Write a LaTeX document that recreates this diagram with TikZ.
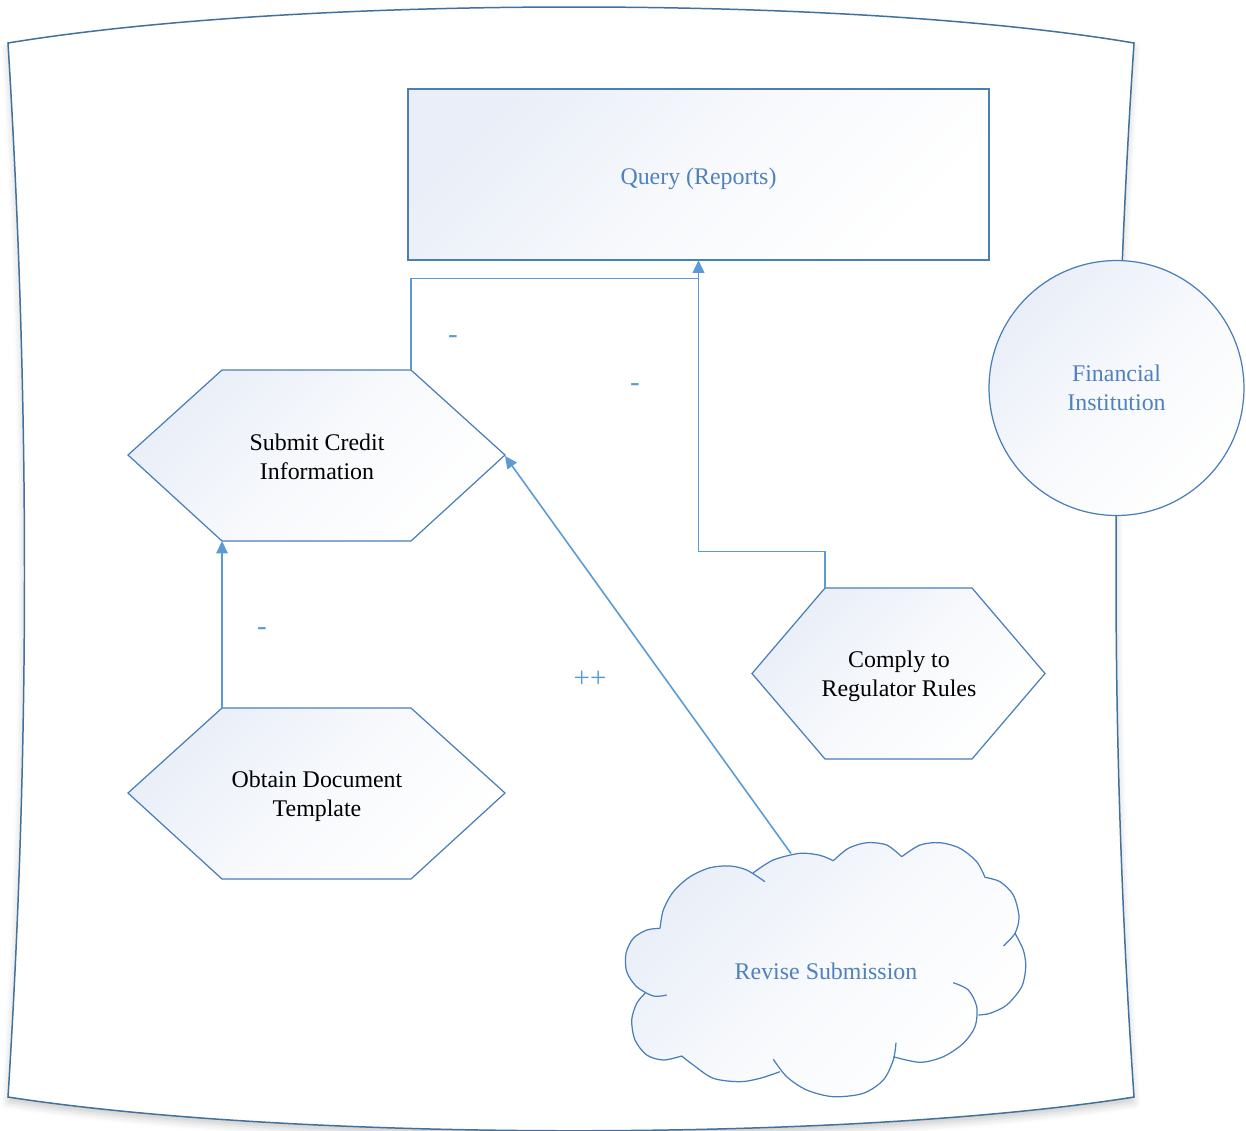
\documentclass[tikz,border=0pt]{standalone}
\usepackage{fontspec}
\setmainfont{Liberation Serif}
\usetikzlibrary{arrows.meta,shadows.blur}

\definecolor{framec}{HTML}{41719C}
\definecolor{edgec}{HTML}{4A7EBB}
\definecolor{connc}{HTML}{5B9BD5}
\definecolor{bluetext}{HTML}{4F81BD}
\definecolor{shadec}{HTML}{E9EEF8}
\definecolor{shademid}{HTML}{F7F9FC}

\tikzset{
  shapefill/.style={top color=shadec, bottom color=white, middle color=shademid, shading angle=45},
  shapeline/.style={draw=edgec, line width=0.7pt},
  hexbox/.style={shapefill, shapeline, line join=miter},
  labeltext/.style={font=\fontsize{13.6pt}{16.4pt}\selectfont, align=center, inner sep=0pt},
  conn/.style={draw=connc, line width=0.9pt, -{Triangle[length=7pt,width=6.5pt]}},
  signlabel/.style={inner sep=0pt, font=\fontsize{16.5pt}{19pt}\selectfont, text=connc},
}

\begin{document}
\begin{tikzpicture}[x=0.02cm, y=-0.02cm]
\useasboundingbox (0,0) rectangle (1246,1130);

% curved sheet outline
\path[fill=white, blur shadow={shadow xshift=0pt, shadow yshift=-3pt, shadow blur radius=4pt, shadow opacity=20}]
  (8,43) .. controls (300,-5) and (850,-5) .. (1134,43)
  .. controls (1110,400) and (1110,750) .. (1134,1097)
  .. controls (850,1142) and (300,1142) .. (8,1097)
  .. controls (30,750) and (30,400) .. (8,43) -- cycle;
\draw[framec, line width=0.85pt, line join=miter]
  (8,43) .. controls (300,-5) and (850,-5) .. (1134,43)
  .. controls (1110,400) and (1110,750) .. (1134,1097)
  .. controls (850,1142) and (300,1142) .. (8,1097)
  .. controls (30,750) and (30,400) .. (8,43) -- cycle;

% reports box and institution
\node[rectangle, shapefill, shapeline, minimum width=11.62cm, minimum height=3.42cm,
      labeltext, text=bluetext, text depth=0pt] (query) at (698.5,174.5) {\raisebox{-2pt}{Query (Reports)}};
\node[circle, shapefill, shapeline, minimum size=5.1cm, labeltext, text=bluetext]
      (fi) at (1116.5,388) {Financial\\Institution};

% hexagonal steps
\path[hexbox] (128,455) -- (222,370) -- (411,370) -- (505,455) -- (411,541) -- (222,541) -- cycle;
\node[labeltext] (submit) at (317,456.5) {Submit Credit\\Information};
\coordinate (submit-tr) at (411,370);
\coordinate (submit-bl) at (222,541);
\coordinate (submit-r) at (505,456);

\path[hexbox] (128,793) -- (222,708) -- (411,708) -- (505,793) -- (411,879) -- (222,879) -- cycle;
\node[labeltext] (obtain) at (317,796.5) {Obtain Document\\Template};
\coordinate (obtain-tl) at (222,708);

\path[hexbox] (752,673.5) -- (825,588) -- (972,588) -- (1045,673.5) -- (972,759) -- (825,759) -- cycle;
\node[labeltext] (comply) at (899,676.5) {Comply to\\Regulator Rules};
\coordinate (comply-tl) at (825,588);

% cloud
\path[shapefill]
  plot[smooth] coordinates {(666.7,995) (653.3,996) (636.7,986.7) (626.7,971.7) (626,953.3) (633.3,938.3) (646.7,930) (660,928.3)}
  -- plot[smooth] coordinates {(660,928.3) (663.3,910) (673.3,891.7) (690,876.7) (710,867.7) (730,866) (746.7,870) (765,881.7)}
  -- plot[smooth] coordinates {(753.3,872.7) (773.3,860) (800,853.3) (820,855.3) (833.3,860.7)}
  -- plot[smooth] coordinates {(833.3,860.7) (848.3,848.3) (866.7,842.7) (886.7,845) (901.7,856.7)}
  -- plot[smooth] coordinates {(901.7,856.7) (920,845) (940,842.7) (960,848.3) (976.7,861.7) (985,877.3)}
  -- plot[smooth] coordinates {(985,877.3) (1000,881.7) (1013.3,895) (1019,916.7) (1015,933.3) (1003.3,946)}
  -- plot[smooth] coordinates {(1015,933.3) (1023.3,950) (1025.7,966.7) (1021.7,986.7) (1006.7,1005) (990,1013.3) (978.3,1015)}
  -- plot[smooth] coordinates {(953.3,982.7) (968.3,990) (976.7,1006.7) (975,1026.7) (963.3,1043.3) (943.3,1056.7) (920,1062.3) (893.3,1056.7)}
  -- plot[smooth] coordinates {(896,1042.7) (893.3,1060) (883.3,1080) (863.3,1093.3) (833.3,1096.7) (806.7,1090) (786.7,1076.7) (773.3,1059.3)}
  -- plot[smooth] coordinates {(780,1071.7) (760,1078.3) (740,1081.7) (713.3,1078.3) (693.3,1065) (681.7,1056)}
  -- plot[smooth] coordinates {(681.7,1056) (663.3,1060) (646.7,1055) (635,1040) (631.7,1020) (636.7,1003.3) (645,993.3)}
  -- cycle;
\draw[draw=edgec, line width=0.7pt]
  plot[smooth] coordinates {(666.7,995) (653.3,996) (636.7,986.7) (626.7,971.7) (626,953.3) (633.3,938.3) (646.7,930) (660,928.3)}
  plot[smooth] coordinates {(660,928.3) (663.3,910) (673.3,891.7) (690,876.7) (710,867.7) (730,866) (746.7,870) (765,881.7)}
  plot[smooth] coordinates {(753.3,872.7) (773.3,860) (800,853.3) (820,855.3) (833.3,860.7)}
  plot[smooth] coordinates {(833.3,860.7) (848.3,848.3) (866.7,842.7) (886.7,845) (901.7,856.7)}
  plot[smooth] coordinates {(901.7,856.7) (920,845) (940,842.7) (960,848.3) (976.7,861.7) (985,877.3)}
  plot[smooth] coordinates {(985,877.3) (1000,881.7) (1013.3,895) (1019,916.7) (1015,933.3) (1003.3,946)}
  plot[smooth] coordinates {(1015,933.3) (1023.3,950) (1025.7,966.7) (1021.7,986.7) (1006.7,1005) (990,1013.3) (978.3,1015)}
  plot[smooth] coordinates {(953.3,982.7) (968.3,990) (976.7,1006.7) (975,1026.7) (963.3,1043.3) (943.3,1056.7) (920,1062.3) (893.3,1056.7)}
  plot[smooth] coordinates {(896,1042.7) (893.3,1060) (883.3,1080) (863.3,1093.3) (833.3,1096.7) (806.7,1090) (786.7,1076.7) (773.3,1059.3)}
  plot[smooth] coordinates {(780,1071.7) (760,1078.3) (740,1081.7) (713.3,1078.3) (693.3,1065) (681.7,1056)}
  plot[smooth] coordinates {(681.7,1056) (663.3,1060) (646.7,1055) (635,1040) (631.7,1020) (636.7,1003.3) (645,993.3)};
\node[labeltext, text=bluetext] (revise) at (826,971.5) {Revise Submission};
\coordinate (revise-top) at (791,853.5);

% connectors
\draw[conn] (submit-tr) |- ([yshift=-0.36cm]query.south) -- (query.south);
\draw[conn] (comply-tl) |- ([yshift=-5.82cm]query.south) -- (query.south);
\draw[conn] (obtain-tl) -- (submit-bl);
\draw[conn] (revise-top) -- (submit-r);

% connector signs
\node[signlabel] (sign-a) at (453,340) {-};
\node[signlabel] (sign-b) at (635,388) {-};
\node[signlabel] (sign-c) at (262,632) {-};
\node[signlabel] (sign-d) at (590,679) {++};
\end{tikzpicture}
\end{document}
